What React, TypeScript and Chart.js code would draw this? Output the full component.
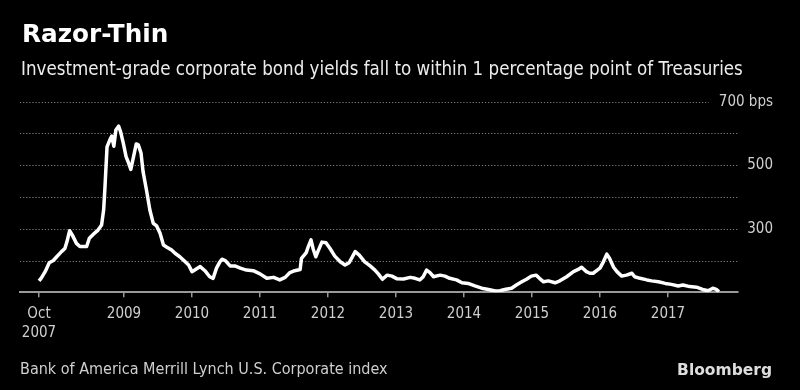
import React, { useEffect, useRef } from "react";
import { Chart, registerables } from "chart.js";

Chart.register(...registerables);

// Dates as decimal years, spreads in basis points
const dates = [
  2007.75, 2007.78, 2007.84, 2007.9, 2007.96, 2008.01, 2008.08, 2008.13, 2008.16, 2008.2,
  2008.24, 2008.3, 2008.35, 2008.45, 2008.49, 2008.55, 2008.61, 2008.67, 2008.7, 2008.72,
  2008.75, 2008.79, 2008.82, 2008.85, 2008.88, 2008.92, 2008.95, 2008.99, 2009.03, 2009.06,
  2009.1, 2009.14, 2009.18, 2009.21, 2009.25, 2009.28, 2009.33, 2009.38, 2009.43, 2009.48,
  2009.53, 2009.58, 2009.63, 2009.7, 2009.75, 2009.82, 2009.9, 2009.95, 2010.0, 2010.04,
  2010.12, 2010.19, 2010.26, 2010.31, 2010.36, 2010.41, 2010.44, 2010.49, 2010.56, 2010.63,
  2010.71, 2010.8, 2010.9, 2011.0, 2011.1, 2011.2, 2011.29, 2011.37, 2011.44, 2011.51,
  2011.59, 2011.61, 2011.68, 2011.71, 2011.75, 2011.78, 2011.82, 2011.86, 2011.91, 2011.97,
  2012.03, 2012.1, 2012.18, 2012.25, 2012.31, 2012.36, 2012.4, 2012.46, 2012.54, 2012.62,
  2012.69, 2012.74, 2012.8, 2012.87, 2012.94, 2013.01, 2013.11, 2013.21, 2013.28, 2013.35,
  2013.4, 2013.45, 2013.5, 2013.55, 2013.65, 2013.72, 2013.79, 2013.89, 2013.97, 2014.06,
  2014.16, 2014.26, 2014.36, 2014.46, 2014.53, 2014.6, 2014.7, 2014.77, 2014.85, 2014.92,
  2014.99, 2015.06, 2015.11, 2015.17, 2015.24, 2015.34, 2015.41, 2015.51, 2015.61, 2015.68,
  2015.73, 2015.8, 2015.85, 2015.9, 2015.95, 2016.0, 2016.05, 2016.1, 2016.14, 2016.2,
  2016.25, 2016.32, 2016.39, 2016.47, 2016.51, 2016.59, 2016.69, 2016.76, 2016.86, 2016.96,
  2017.05, 2017.15, 2017.22, 2017.32, 2017.42, 2017.51, 2017.59, 2017.66, 2017.71, 2017.75,
];

const spreads = [
  136, 144, 165, 193, 200, 212, 228, 238, 259, 294,
  280, 254, 244, 244, 270, 283, 294, 312, 359, 432,
  558, 579, 592, 560, 611, 623, 605, 569, 527, 511,
  487, 527, 567, 564, 538, 480, 422, 359, 317, 309,
  286, 249, 242, 233, 223, 212, 196, 186, 165, 170,
  181, 168, 149, 144, 176, 196, 204, 200, 183, 183,
  176, 170, 168, 158, 144, 147, 139, 147, 162, 168,
  172, 207, 225, 244, 265, 238, 212, 233, 258, 256,
  238, 214, 196, 186, 193, 212, 228, 217, 196, 183,
  170, 158, 141, 154, 151, 143, 142, 147, 144, 139,
  149, 170, 162, 149, 154, 151, 144, 139, 130, 128,
  120, 113, 109, 104, 105, 109, 113, 123, 133, 141,
  151, 154, 144, 133, 136, 130, 136, 149, 165, 172,
  179, 165, 160, 160, 168, 176, 196, 220, 207, 179,
  165, 151, 154, 160, 149, 144, 139, 136, 133, 128,
  125, 120, 123, 118, 116, 109, 105, 113, 109, 102,
];

const xTickValues = [2007.75, 2009, 2010, 2011, 2012, 2013, 2014, 2015, 2016, 2017];
const xTickLabels: (string | string[])[] = [
  ["Oct", "2007"], "2009", "2010", "2011", "2012", "2013", "2014", "2015", "2016", "2017",
];
const xRange = [2007.47, 2018.03];

const yRange = [100, 700];
const yGridValues = [200, 300, 400, 500, 600, 700];
const yLabelValues = [300, 500, 700];
const yLabelTexts = ["300", "500", "700 bps"];

const TITLE = "Razor-Thin";
const SUBTITLE =
  "Investment-grade corporate bond yields fall to within 1 percentage point of Treasuries";
const SOURCE = "Bank of America Merrill Lynch U.S. Corporate index";
const BRAND = "Bloomberg";

const COND = "'DejaVu Sans Condensed', 'DejaVu Sans', sans-serif";
const LABEL_RIGHT_GAP = 35;

const dottedGrid = {
  id: "dottedGrid",
  beforeDatasetsDraw(chart: any) {
    const { ctx, chartArea, scales } = chart;
    const y = scales.y;
    ctx.save();
    ctx.strokeStyle = "#7d7d7d";
    ctx.lineWidth = 1.2;
    ctx.setLineDash([1.2, 1.9]);
    ctx.font = `15px ${COND}`;
    yGridValues.forEach((v) => {
      const py = Math.round(y.getPixelForValue(v)) + 0.5;
      let right = chartArea.right;
      const li = yLabelValues.indexOf(v);
      if (li >= 0) {
        const w = ctx.measureText(yLabelTexts[li]).width;
        const labelLeft = y.left + LABEL_RIGHT_GAP - w;
        if (labelLeft < chartArea.right) right = labelLeft - 10;
      }
      ctx.beginPath();
      ctx.moveTo(chartArea.left, py);
      ctx.lineTo(right, py);
      ctx.stroke();
    });
    ctx.restore();
  },
};

function ChartCanvas() {
  const ref = useRef<HTMLCanvasElement | null>(null);
  useEffect(() => {
    if (!ref.current) return;
    const chart = new Chart(ref.current, {
      type: "line",
      data: {
        datasets: [
          {
            data: dates.map((d, i) => ({ x: d, y: spreads[i] })),
            borderColor: "#ffffff",
            borderWidth: 3.5,
            borderJoinStyle: "round",
            pointRadius: 0,
            tension: 0,
            fill: false,
          },
        ],
      },
      options: {
        responsive: false,
        animation: false,
        devicePixelRatio: 1,
        layout: { padding: { left: 20, top: 101.7, right: 27, bottom: 0 } },
        plugins: {
          legend: { display: false },
          title: { display: false },
          tooltip: { enabled: false },
        },
        scales: {
          x: {
            type: "linear",
            min: xRange[0],
            max: xRange[1],
            afterBuildTicks: (scale: any) => {
              scale.ticks = xTickValues.map((v) => ({ value: v }));
            },
            afterFit: (scale: any) => {
              scale.height = 97.7;
            },
            ticks: {
              autoSkip: false,
              maxRotation: 0,
              minRotation: 0,
              padding: 7,
              color: "#cfcfcf",
              font: { family: COND, size: 15, lineHeight: 19 / 15 },
              callback: (_v: any, i: number) => xTickLabels[i],
            },
            grid: {
              display: true,
              drawOnChartArea: false,
              drawTicks: true,
              tickLength: 5,
              color: "#9a9a9a",
              lineWidth: 1.5,
            },
            border: { display: true, color: "#9a9a9a", width: 2 },
          },
          y: {
            type: "linear",
            position: "right",
            min: yRange[0],
            max: yRange[1],
            afterBuildTicks: (scale: any) => {
              scale.ticks = yLabelValues.map((v) => ({ value: v }));
            },
            afterFit: (scale: any) => {
              scale.width = 35;
            },
            ticks: {
              mirror: true,
              crossAlign: "near",
              padding: LABEL_RIGHT_GAP,
              color: "#cfcfcf",
              font: { family: COND, size: 15 },
              callback: (v: any) => {
                const i = yLabelValues.indexOf(Number(v));
                return i >= 0 ? yLabelTexts[i] : "";
              },
            },
            grid: { display: false, drawTicks: false },
            border: { display: false },
          },
        },
      },
      plugins: [dottedGrid],
    } as any);
    return () => chart.destroy();
  }, []);
  return (
    <canvas
      ref={ref}
      width={800}
      height={390}
      style={{ position: "absolute", left: 0, top: 0, width: 800, height: 390 }}
    />
  );
}

export default function App() {
  useEffect(() => {
    document.body.style.margin = "0";
    document.body.style.background = "#000";
  }, []);
  const base: React.CSSProperties = {
    position: "absolute",
    margin: 0,
    whiteSpace: "nowrap",
  };
  return (
    <div
      style={{
        position: "relative",
        width: 800,
        height: 390,
        background: "#000",
        overflow: "hidden",
      }}
    >
      <ChartCanvas />
      <div
        style={{
          ...base,
          left: 22,
          top: 22.1,
          fontFamily: "'DejaVu Sans', sans-serif",
          fontWeight: 700,
          fontSize: 24.7,
          lineHeight: "24.7px",
          color: "#ffffff",
        }}
      >
        {TITLE}
      </div>
      <div
        style={{
          ...base,
          left: 21,
          top: 60.2,
          fontFamily: COND,
          fontSize: 18.6,
          lineHeight: "18.6px",
          color: "#ececec",
        }}
      >
        {SUBTITLE}
      </div>
      <div
        style={{
          ...base,
          left: 20,
          top: 360.5,
          fontFamily: COND,
          fontSize: 16,
          lineHeight: "16px",
          color: "#cfcfcf",
        }}
      >
        {SOURCE}
      </div>
      <div
        style={{
          ...base,
          right: 28,
          top: 362.6,
          fontFamily: "'DejaVu Sans', sans-serif",
          fontWeight: 700,
          fontSize: 15.5,
          lineHeight: "15.5px",
          color: "#dddddd",
        }}
      >
        {BRAND}
      </div>
    </div>
  );
}
